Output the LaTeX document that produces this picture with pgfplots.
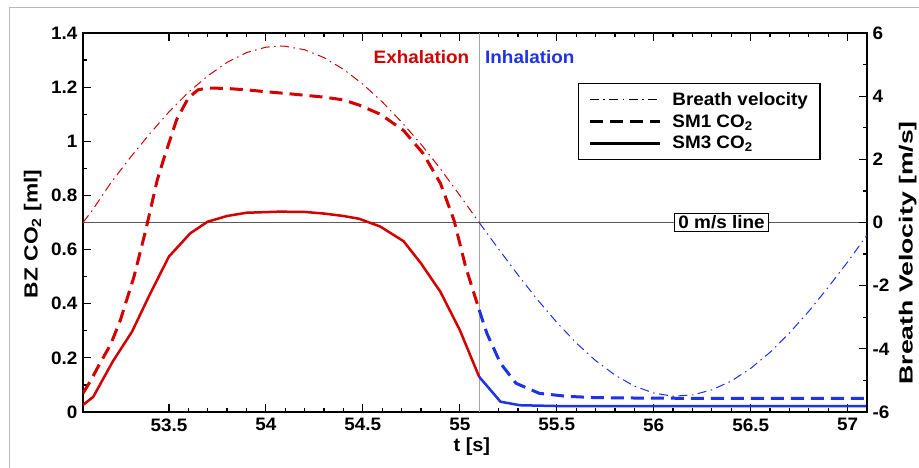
\documentclass[border=0pt]{standalone}
\usepackage{pgfplots}
\pgfplotsset{compat=1.18}
\usepackage{fontspec}
\setmainfont{Liberation Sans}[FakeStretch=1.05]
\newfontfamily\labL{Liberation Sans}[FakeStretch=1.2]
\newfontfamily\labR{Liberation Sans}[FakeStretch=1.4]
\definecolor{cred}{RGB}{210,0,0}
\definecolor{cblue}{RGB}{30,50,230}
\tikzset{
  ddot/.style={line width=1pt, dash pattern=on 9pt off 4.5pt on 1.5pt off 4.5pt},
  dsh/.style={line width=3pt, dash pattern=on 13pt off 7pt},
  sld/.style={line width=2.5pt},
}
\pgfplotsset{
  common/.style={
    scale only axis, width=784pt, height=379pt,
    at={(83pt,56pt)}, anchor=south west,
    xmin=53.057, xmax=57.1,
    axis line style={line width=1.6pt},
    tick style={line width=1.2pt, black},
    major tick length=8pt, minor tick length=4pt,
    tick align=inside,
    font=\bfseries\fontsize{18}{21}\selectfont,
    tick label style={font=\bfseries\fontsize{18}{21}\selectfont},
    /pgf/number format/assume math mode=true,
  }
}
\begin{document}
\begin{tikzpicture}[x=1pt,y=1pt]
\useasboundingbox (0,0) rectangle (919,468);
\fill[white] (0,0) rectangle (919,468);
\draw[gray!55, line width=1pt] (9,0) -- (9,460) -- (919,460);
\begin{axis}[common,
  ymin=0, ymax=1.4,
  ytick={0,0.2,0.4,0.6,0.8,1,1.2,1.4}, minor y tick num=1,
  xtick={53.5,54,54.5,55,55.5,56,56.5,57}, minor x tick num=4,
  ytick pos=left,
  yticklabel style={xshift=-2pt},
  xticklabel style={yshift=-3pt},
  xlabel={t [s]},
  xlabel style={at={(axis description cs:0.496,-0.09)}, anchor=center,
    font=\bfseries\fontsize{19}{22}\selectfont},
  ylabel={\labL\bfseries\fontsize{19}{22}\selectfont BZ CO\textsubscript{2} [ml]},
  ylabel style={at={(axis description cs:-0.064,0.47)}, anchor=center, rotate=0},
  legend image code/.code={\draw[#1] (0pt,0pt) -- (70pt,0pt);},
  legend cell align=left,
  legend style={at={(rel axis cs:0.631,0.868)}, anchor=north west,
    draw=black, line width=1.4pt, inner xsep=10pt, inner ysep=7pt,
    row sep=3.5pt, font=\bfseries\fontsize{18}{21}\selectfont,
    /tikz/every odd column/.append style={column sep=9pt}},
]
\draw[gray!70, line width=1pt] (axis cs:55.1,0) -- (axis cs:55.1,1.4);
\draw[black!65, line width=1pt] (axis cs:53.057,0.7) -- (axis cs:57.1,0.7);
\addlegendimage{black, ddot}
\addlegendentry{Breath velocity}
\addlegendimage{black, dsh}
\addlegendentry{SM1 CO\textsubscript{2}}
\addlegendimage{black, sld}
\addlegendentry{SM3 CO\textsubscript{2}}
% SM1 exhalation
\addplot[cred, dsh, forget plot] coordinates {
(53.057,0.069) (53.1,0.12) (53.14,0.174) (53.2,0.25) (53.25,0.34) (53.32,0.50)
(53.38,0.67) (53.44,0.857) (53.48,0.95) (53.54,1.08) (53.6,1.16) (53.65,1.19)
(53.7,1.197) (53.8,1.195) (53.9,1.19) (54.0,1.183) (54.1,1.177) (54.2,1.17)
(54.3,1.163) (54.4,1.153) (54.48,1.134) (54.59,1.10) (54.71,1.04) (54.81,0.956)
(54.9,0.845) (54.97,0.709) (55.03,0.537) (55.1,0.377)};
% SM1 inhalation
\addplot[cblue, dsh, forget plot] coordinates {
(55.1,0.377) (55.14,0.29) (55.21,0.18) (55.29,0.106) (55.41,0.069) (55.55,0.058)
(55.7,0.053) (56.0,0.051) (56.5,0.05) (57.1,0.05)};
% SM3 exhalation
\addplot[cred, sld, forget plot] coordinates {
(53.057,0.026) (53.11,0.056) (53.21,0.186) (53.31,0.297) (53.40,0.432) (53.5,0.574)
(53.61,0.66) (53.7,0.703) (53.8,0.724) (53.9,0.736) (54.07,0.74) (54.2,0.739)
(54.3,0.733) (54.4,0.724) (54.48,0.714) (54.59,0.685) (54.71,0.631) (54.80,0.549)
(54.90,0.444) (55.0,0.303) (55.1,0.130)};
% SM3 inhalation
\addplot[cblue, sld, forget plot] coordinates {
(55.1,0.130) (55.21,0.038) (55.31,0.025) (55.5,0.022) (57.1,0.022)};
\node[anchor=east, text=cred, font=\bfseries\fontsize{18}{21}\selectfont, inner sep=0pt] at (axis cs:55.05,1.311) {Exhalation};
\node[anchor=west, text=cblue, font=\bfseries\fontsize{18}{21}\selectfont, inner sep=0pt] at (axis cs:55.13,1.311) {Inhalation};
\end{axis}
\begin{axis}[common,
  ymin=-6, ymax=6,
  ytick={-6,-4,-2,0,2,4,6}, minor y tick num=1,
  axis y line*=right, axis x line=none,
  yticklabel style={xshift=2pt},
  ylabel={\labR\bfseries\fontsize{19}{22}\selectfont Breath Velocity [m/s]},
  ylabel style={at={(axis description cs:1.052,0.42)}, anchor=center, rotate=0},
]
\addplot[cred, ddot] coordinates {
(53.057,0) (53.1,0.34) (53.2,1.25) (53.3,2.05) (53.4,2.8) (53.5,3.5) (53.6,4.12)
(53.7,4.64) (53.8,5.07) (53.9,5.38) (54.0,5.55) (54.07,5.59) (54.1,5.58) (54.2,5.47)
(54.3,5.22) (54.4,4.85) (54.5,4.38) (54.6,3.82) (54.7,3.18) (54.8,2.48) (54.9,1.7)
(55.0,0.86) (55.1,0)};
\addplot[cblue, ddot] coordinates {
(55.1,0) (55.2,-0.84) (55.3,-1.66) (55.4,-2.44) (55.5,-3.16) (55.6,-3.81) (55.7,-4.37)
(55.8,-4.83) (55.9,-5.18) (56.0,-5.40) (56.1,-5.50) (56.2,-5.46) (56.3,-5.30)
(56.4,-5.02) (56.5,-4.62) (56.6,-4.11) (56.7,-3.50) (56.8,-2.81) (56.9,-2.05)
(57.0,-1.25) (57.1,-0.40)};
\node[draw=black, line width=1pt, fill=white, inner xsep=4pt, inner ysep=2.5pt,
  font=\bfseries\fontsize{18}{21}\selectfont] at (axis cs:56.35,0) {0 m/s line};
\end{axis}
\end{tikzpicture}
\end{document}
